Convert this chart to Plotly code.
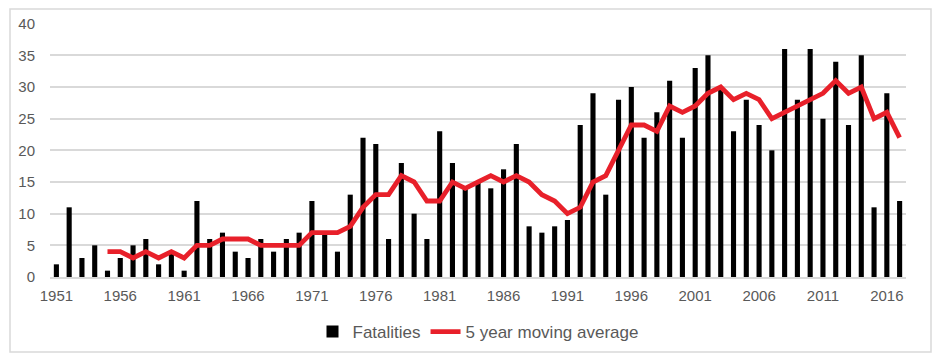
import plotly.graph_objects as go

years = list(range(1951, 2018))
fatalities = [2, 11, 3, 5, 1, 3, 5, 6, 2, 4,
              1, 12, 6, 7, 4, 3, 6, 4, 6, 7,
              12, 7, 4, 13, 22, 21, 6, 18, 10, 6,
              23, 18, 14, 15, 14, 17, 21, 8, 7, 8,
              9, 24, 29, 13, 28, 30, 22, 26, 31, 22,
              33, 35, 30, 23, 28, 24, 20, 36, 28, 36,
              25, 34, 24, 35, 11, 29, 12]
ma_years = list(range(1955, 2018))
moving_avg = [4, 4, 3, 4, 3, 4, 3, 5, 5, 6,
              6, 6, 5, 5, 5, 5, 7, 7, 7, 8,
              11, 13, 13, 16, 15, 12, 12, 15, 14, 15,
              16, 15, 16, 15, 13, 12, 10, 11, 15, 16,
              20, 24, 24, 23, 27, 26, 27, 29, 30, 28,
              29, 28, 25, 26, 27, 28, 29, 31, 29, 30,
              25, 26, 22]
tick_years = list(range(1951, 2017, 5))
y_ticks = [0, 5, 10, 15, 20, 25, 30, 35, 40]

fig = go.Figure()
fig.add_trace(go.Bar(x=years, y=fatalities, name="Fatalities",
                     marker=dict(color="#000000", line=dict(width=0))))
fig.add_trace(go.Scatter(x=ma_years, y=moving_avg, name="5 year moving average",
                         mode="lines", line=dict(color="#e8202a", width=4.8)))

font_color = "#595959"
fig.update_layout(
    width=939, height=361,
    margin=dict(l=50, r=33, t=23, b=84, autoexpand=False),
    paper_bgcolor="white", plot_bgcolor="white",
    font=dict(family="Liberation Sans, Arial, sans-serif", size=15, color=font_color),
    bargap=0.6,
    showlegend=True,
    legend=dict(orientation="h", x=0.5, xanchor="center", y=(277 - 332) / 254,
                yanchor="middle", font=dict(size=17, color=font_color), itemwidth=30,
                tracegroupgap=0),
    xaxis=dict(range=[1950.5, 2017.5], tickmode="array", tickvals=tick_years,
               ticktext=[str(t) for t in tick_years], showgrid=False,
               showline=True, linecolor="#d9d9d9", linewidth=1.5, automargin=False,
               ticks="", zeroline=False, ticklabelstandoff=4,
               tickfont=dict(size=15, color=font_color)),
    yaxis=dict(range=[0, 40.1], tickmode="array", tickvals=y_ticks,
               showgrid=True, gridcolor="#d9d9d9", gridwidth=1.5, automargin=False,
               zeroline=False, showline=False, ticks="",
               ticklabelstandoff=14, tickfont=dict(size=15, color=font_color)),
    shapes=[dict(type="rect", xref="paper", yref="paper",
                 x0=(10 - 50) / 856, x1=(931 - 50) / 856,
                 y0=(277 - 352) / 254, y1=(277 - 9) / 254,
                 line=dict(color="#d9d9d9", width=1.5), fillcolor="rgba(0,0,0,0)",
                 layer="below")],
)

fig.write_html("out.html", config={"displayModeBar": False},
               post_script="document.body.style.margin='0';document.body.style.padding='0';")
